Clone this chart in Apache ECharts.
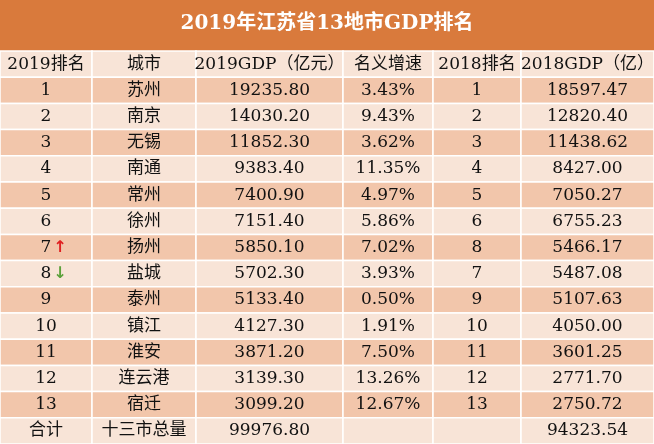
<!DOCTYPE html>
<html><head><meta charset="utf-8">
<script src="https://cdn.jsdelivr.net/npm/echarts@6/dist/echarts.min.js"></script>
<style>html,body{margin:0;padding:0;background:#fff}#c{width:654px;height:444px}</style>
</head><body><div id="c"></div>
<script>
var title = '2019年江苏省13地市GDP排名';
var headers = ['2019排名','城市','2019GDP（亿元）','名义增速','2018排名','2018GDP（亿）'];
var rank2019 = ['1','2','3','4','5','6','7','8','9','10','11','12','13'];
var cities = ['苏州','南京','无锡','南通','常州','徐州','扬州','盐城','泰州','镇江','淮安','连云港','宿迁'];
var gdp2019 = ['19235.80','14030.20','11852.30','9383.40','7400.90','7151.40','5850.10','5702.30','5133.40','4127.30','3871.20','3139.30','3099.20'];
var growth = ['3.43%','9.43%','3.62%','11.35%','4.97%','5.86%','7.02%','3.93%','0.50%','1.91%','7.50%','13.26%','12.67%'];
var rank2018 = ['1','2','3','4','5','6','8','7','9','10','11','12','13'];
var gdp2018 = ['18597.47','12820.40','11438.62','8427.00','7050.27','6755.23','5466.17','5487.08','5107.63','4050.00','3601.25','2771.70','2750.72'];
var totalRow = ['合计','十三市总量','99976.80','','','94323.54'];
var arrows = {6:'up',7:'down'};

var edges = [0,92,196,343,433,521,654];
var rows = [headers];
for (var i=0;i<cities.length;i++) rows.push([rank2019[i],cities[i],gdp2019[i],growth[i],rank2018[i],gdp2018[i]]);
rows.push(totalRow);
var rowNames = rows.map(function(r,i){return 'r'+i;});
var data = [];
rows.forEach(function(r,ri){ r.forEach(function(t,ci){ data.push([ci,ri,t]); }); });

var chart = echarts.init(document.getElementById('c'));
chart.setOption({
  animation:false,
  graphic:[
    {type:'rect',shape:{x:0,y:0,width:654,height:51},style:{fill:'#D97A3C'}},
    {type:'text',left:'center',top:14,style:{text:title,fill:'#fff',font:'bold 20px "DejaVu Serif","Noto Sans CJK SC"'}}
  ],
  grid:{left:0,right:0,top:51,bottom:0},
  xAxis:{type:'value',min:0,max:654,show:false},
  yAxis:{type:'category',data:rowNames,inverse:true,show:false},
  series:[{
    type:'custom',
    data:data,
    renderItem:function(params,api){
      var ci=api.value(0), ri=api.value(1), txt=data[params.dataIndex][2];
      var p0=api.coord([edges[ci],ri]), p1=api.coord([edges[ci+1],ri]);
      var h=api.size([0,1])[1];
      var y0=p0[1]-h/2;
      var fill=(ri%2===1)?'#F2C6AB':'#F8E4D7';
      var cx=(p0[0]+p1[0])/2, cy=p0[1];
      var ch=[
        {type:'rect',shape:{x:p0[0],y:y0,width:p1[0]-p0[0],height:h},style:{fill:fill,stroke:'#fff',lineWidth:1.5}},
        {type:'text',style:{text:txt,x:cx,y:cy,align:'center',verticalAlign:'middle',fill:'#111',font:'17px "DejaVu Serif","Noto Sans CJK SC"'}}
      ];
      var a = (ci===0)?arrows[ri-1]:null;
      if(a){
        ch.push({type:'text',style:{text:a==='up'?'↑':'↓',x:cx+14,y:cy,align:'center',verticalAlign:'middle',fill:a==='up'?'#E02020':'#5BA03A',font:'bold 16px "DejaVu Sans"'}});
      }
      return {type:'group',children:ch};
    }
  }]
});
</script></body></html>
